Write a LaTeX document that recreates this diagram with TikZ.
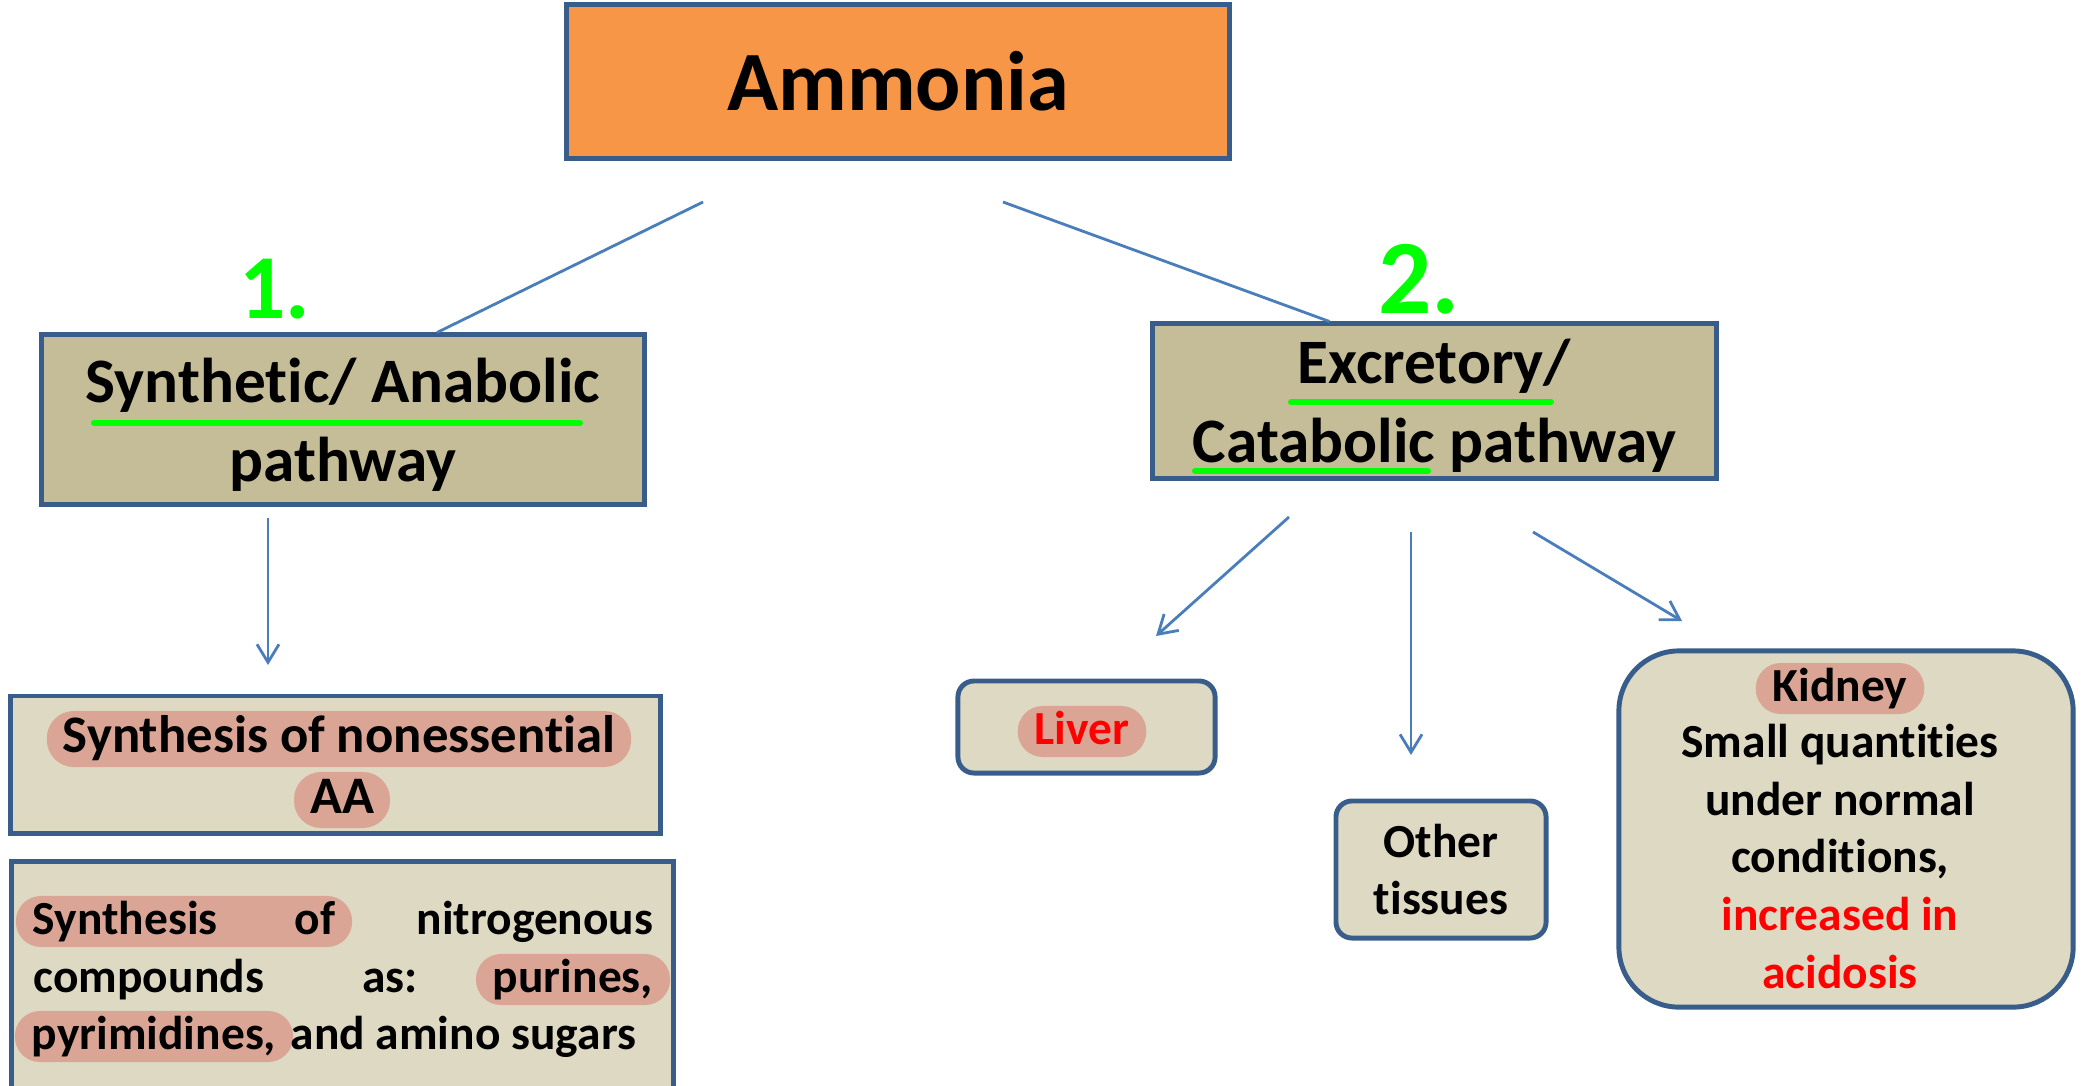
\documentclass[tikz,border=0pt]{standalone}
\usepackage{fontspec}
\setmainfont{Carlito}[Ligatures=NoCommon]
\usepackage{tikz}
\usetikzlibrary{arrows.meta}
\usetikzlibrary{positioning}

\definecolor{boxline}{HTML}{385D8A}
\definecolor{arrowline}{HTML}{4A7EBB}
\definecolor{ammoniafill}{HTML}{F79646}
\definecolor{pathfill}{HTML}{C4BD97}
\definecolor{organfill}{HTML}{DDD9C3}
\definecolor{marker}{HTML}{DBA595}
\definecolor{pen}{HTML}{00FF00}
\definecolor{alert}{HTML}{FF0000}

\newcommand{\titlesize}{\bfseries\fontsize{24}{29}\selectfont}
\newcommand{\headsize}{\bfseries\fontsize{18}{22.4}\selectfont}
\newcommand{\midsize}{\bfseries\fontsize{15}{17.5}\selectfont}
\newcommand{\bodysize}{\bfseries\fontsize{13.5}{16.3}\selectfont}

\begin{document}
\begin{tikzpicture}[x=0.01cm, y=-0.01cm,
    sqbox/.style={draw=boxline, line width=1.4pt, inner sep=0pt},
    rdbox/.style={sqbox, rounded corners=0.16cm},
    pill/.style={fill=marker, rounded corners=0.25cm, inner xsep=0.17cm, inner ysep=0pt,
                 text height=0.38cm, text depth=0.13cm, anchor=base, font=\bodysize},
    bigpill/.style={pill, rounded corners=0.27cm, inner xsep=0.16cm,
                 text height=0.41cm, text depth=0.15cm, font=\midsize},
    word/.style={anchor=base, inner sep=0pt, font=\bodysize},
    head/.style={align=center, inner sep=0pt, font=\headsize},
    link/.style={draw=arrowline, line width=0.8pt},
    >={Straight Barb[length=0.18cm, width=0.22cm]}]
  \useasboundingbox (0,0) rectangle (2083,1085);
  \clip (0,0) rectangle (2083,1085);

  % top and the two pathways
  \node[sqbox, fill=ammoniafill, minimum width=6.62cm, minimum height=1.53cm, font=\titlesize] (amm) at (898,81.5) {Ammonia};
  \node[sqbox, fill=pathfill, minimum width=6.02cm, minimum height=1.69cm] (syn) at (343,419.5) {};
  \node[head] (syntxt) at ([yshift=-0.05cm]syn.center) {Synthetic/ Anabolic\\pathway};
  \node[sqbox, fill=pathfill, minimum width=5.63cm, minimum height=1.54cm] (exc) at (1434.5,401) {};
  \node[head] (exctxt) at ([yshift=-0.05cm]exc.center) {Excretory/\\Catabolic pathway};

  \node[anchor=base, text=pen, font=\bfseries\fontsize{26}{30}\selectfont] (one) at (275,318) {1.};
  \node[anchor=base, text=pen, font=\bfseries\fontsize{30}{34}\selectfont] (two) at (1419,313) {2.};

  \draw[pen, line width=0.06cm, line cap=round] (94,423) -- (580,423);
  \draw[pen, line width=0.06cm, line cap=round] (1291,402) -- (1551,402);
  \draw[pen, line width=0.06cm, line cap=round] (1195,471) -- (1428,471);

  % synthetic side
  \node[sqbox, fill=organfill, minimum width=6.49cm, minimum height=1.37cm] (nea) at (335.5,764.5) {};
  \node[bigpill] (nea1) at (339,752) {Synthesis of nonessential};
  \node[bigpill] (nea2) at (342,813) {AA};

  \node[sqbox, fill=organfill, minimum width=6.61cm, minimum height=2.48cm] (nit) at (342.5,986) {};
  \node[pill] (nit1) at (184,934) {\makebox[3.02cm][s]{Synthesis of}};
  \node[word, anchor=base east] (nit2) at (654,934) {nitrogenous};
  \node[word, anchor=base west] (nit3) at (33,992) {compounds};
  \node[word] (nit4) at (390,992) {as:};
  \node[pill] (nit5) at (573,992) {purines,};
  \node[pill] (nit6) at (154,1049) {pyrimidines,};
  \node[word, anchor=base west] (nit7) at (290,1049) {and amino sugars};

  % excretory side
  \node[rdbox, fill=organfill, minimum width=2.57cm, minimum height=0.92cm] (liv) at (1086.5,727) {};
  \node[pill, text=alert] (liv1) at (1082,744) {Liver};

  \node[rdbox, fill=organfill, minimum width=2.10cm, minimum height=1.37cm, align=center, font=\bodysize] (oth) at (1441,869.5) {Other\\tissues};

  \node[sqbox, rounded corners=0.6cm, fill=organfill, minimum width=4.54cm, minimum height=3.56cm] (kid) at (1846,829) {};
  \node[pill] (kid1) at (1840,701) {Kidney};
  \node[word] (kid2) at (1840,757) {Small quantities};
  \node[word] (kid3) at (1840,815) {under normal};
  \node[word] (kid4) at (1840,872) {conditions,};
  \node[word, text=alert] (kid5) at (1840,930) {increased in};
  \node[word, text=alert] (kid6) at (1840,988) {acidosis};

  % connectors
  \coordinate (a1) at (703,202);
  \coordinate (a2) at (1003,202);
  \coordinate (s1) at ([xshift=0.94cm]syn.north);
  \coordinate (e1) at ([xshift=-1.05cm]exc.north);
  \draw[link] (a1) -- (s1);
  \draw[link] (a2) -- (e1);

  \coordinate (s2) at (268,518);
  \coordinate (n1) at (268,665);
  \draw[link, ->] (s2) -- (n1);

  \coordinate (e2) at (1289,517);
  \coordinate (l1) at (1156,636);
  \coordinate (e3) at (1411,532);
  \coordinate (o1) at (1411,755);
  \coordinate (e4) at (1533,532);
  \coordinate (k1) at (1682,621);
  \draw[link, ->] (e2) -- (l1);
  \draw[link, ->] (e3) -- (o1);
  \draw[link, ->] (e4) -- (k1);
\end{tikzpicture}
\end{document}
